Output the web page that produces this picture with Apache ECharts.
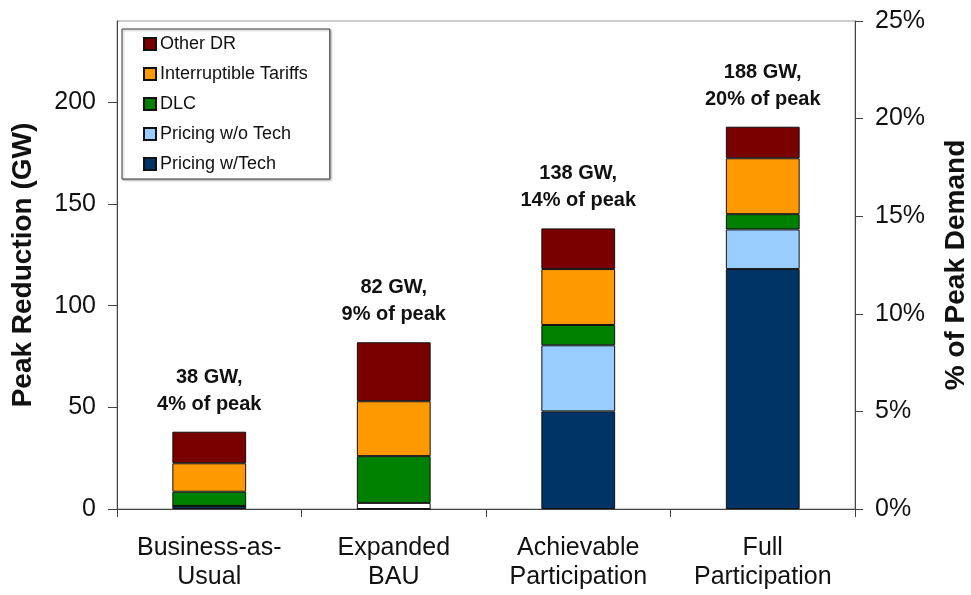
<!DOCTYPE html>
<html>
<head>
<meta charset="utf-8">
<script src="https://cdn.jsdelivr.net/npm/echarts@6/dist/echarts.min.js"></script>
<style>html,body{margin:0;padding:0;background:#fff}#c{width:971px;height:595px}</style>
</head>
<body>
<div id="c"></div>
<script>
const categories = ['Business-as-\nUsual', 'Expanded\nBAU', 'Achievable\nParticipation', 'Full\nParticipation'];
const pricingWithTech = [1.5, 0, 48, 118];
const pricingWithoutTech = [0, 3, 32.5, 19.5];
const dlc = [7, 23, 10, 7.5];
const interruptibleTariffs = [14, 27, 27.5, 27.5];
const otherDR = [15.5, 29, 20, 15.5];
const totalGW = [38, 82, 138, 188];
const pctOfPeak = [4, 9, 14, 20];
const leftTicks = [0, 50, 100, 150, 200];
const rightTicks = [0, 5, 10, 15, 20, 25];

const font = 'Liberation Sans, Arial, sans-serif';
const chart = echarts.init(document.getElementById('c'));
const mk = (name, data, color, extra) => Object.assign({
  name, type: 'bar', stack: 'dr', data, barWidth: '40%',
  itemStyle: { color, borderColor: '#111', borderWidth: 1 }
}, extra || {});

chart.setOption({
  animation: false,
  backgroundColor: '#fff',
  grid: { left: 117, right: 116, top: 21, bottom: 86, show: true, borderColor: '#999', borderWidth: 1,
    containLabel: false, outerBoundsMode: 'none' },
  legend: {
    left: 122, top: 29, orient: 'vertical',
    data: ['Other DR', 'Interruptible Tariffs', 'DLC', 'Pricing w/o Tech', 'Pricing w/Tech'],
    icon: 'rect', itemWidth: 12, itemHeight: 12, itemGap: 12,
    padding: [6, 22, 6, 21], borderColor: '#444', borderWidth: 1,
    backgroundColor: '#fff', shadowColor: 'rgba(0,0,0,0.35)', shadowBlur: 2, shadowOffsetX: 1, shadowOffsetY: 1,
    textStyle: { fontFamily: font, fontSize: 18, color: '#111', lineHeight: 18, padding: [0, 0, 0, -1] }
  },
  xAxis: {
    type: 'category', data: categories,
    axisLine: { lineStyle: { color: '#444', width: 1 } },
    axisTick: { show: true, length: 8, lineStyle: { color: '#444' } },
    axisLabel: { interval: 0, hideOverlap: false, fontFamily: font, fontSize: 25, color: '#111', lineHeight: 29, margin: 25 }
  },
  yAxis: [{
    type: 'value', min: 0, max: 240, interval: 50,
    name: 'Peak Reduction (GW)', nameLocation: 'middle', nameRotate: 90, nameGap: 80,
    nameTextStyle: { fontFamily: font, fontSize: 28, fontWeight: 'bold', color: '#111' },
    axisLine: { show: true, lineStyle: { color: '#444' } },
    axisTick: { show: true, length: 9, customValues: leftTicks, lineStyle: { color: '#444' } },
    splitLine: { show: false },
    axisLabel: { fontFamily: font, fontSize: 25, color: '#111', margin: 21, customValues: leftTicks,
      formatter: v => leftTicks.includes(v) ? String(v) : '' }
  }, {
    type: 'value', min: 0, max: 25, interval: 5, position: 'right',
    name: '% of Peak Demand', nameLocation: 'middle', nameRotate: 90, nameGap: 87,
    nameTextStyle: { fontFamily: font, fontSize: 28, fontWeight: 'bold', color: '#111' },
    axisLine: { show: true, lineStyle: { color: '#444' } },
    axisTick: { show: true, length: 8, lineStyle: { color: '#444' } },
    splitLine: { show: false },
    axisLabel: { fontFamily: font, fontSize: 25, color: '#111', margin: 20,
      formatter: v => rightTicks.includes(v) ? v + '%' : '' }
  }],
  series: [
    mk('Pricing w/Tech', pricingWithTech, '#003366'),
    mk('Pricing w/o Tech', pricingWithoutTech.map((v, i) => i === 1 ? { value: v, itemStyle: { color: '#ffffff' } } : v), '#99CCFF'),
    mk('DLC', dlc, '#008000'),
    mk('Interruptible Tariffs', interruptibleTariffs, '#FF9900'),
    mk('Other DR', otherDR, '#7A0000', {
      label: {
        show: true, position: 'top', distance: 14,
        fontFamily: font, fontSize: 20, fontWeight: 'bold', color: '#111', lineHeight: 27,
        formatter: p => totalGW[p.dataIndex] + ' GW,\n' + pctOfPeak[p.dataIndex] + '% of peak'
      }
    })
  ]
});
</script>
</body>
</html>
